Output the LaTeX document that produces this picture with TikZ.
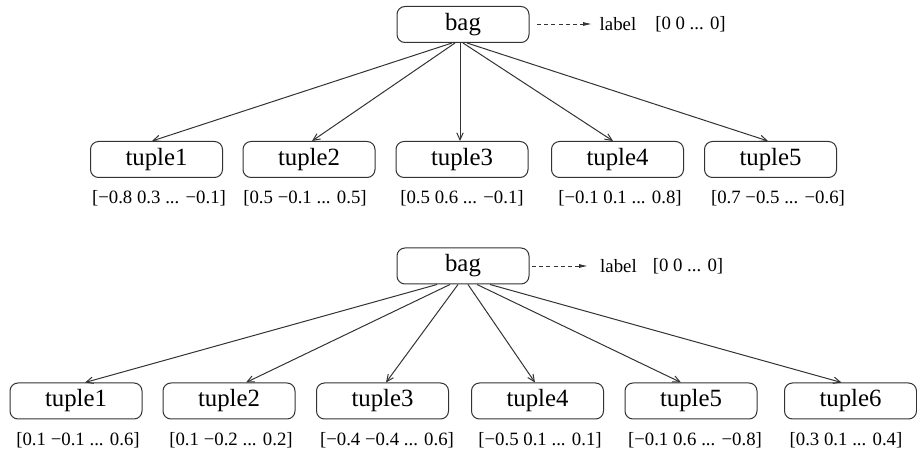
\documentclass[tikz,border=0pt]{standalone}
\usepackage{fontspec}
\setmainfont{Liberation Serif}
\usetikzlibrary{arrows.meta,calc}
\begin{document}
\begin{tikzpicture}[x=0.5pt,y=-0.5pt,
  box/.style={draw=black!80,line width=0.5pt,rounded corners=4pt,minimum width=66pt,minimum height=18pt,inner sep=0pt,font=\fontsize{12.4}{14}\selectfont},
  vec/.style={inner sep=0pt,font=\fontsize{9.4}{11}\selectfont},
  lbl/.style={inner sep=0pt,font=\fontsize{9.4}{11}\selectfont},
  edge/.style={draw=black!80,line width=0.5pt,-{Straight Barb[length=3.5pt,width=3.2pt]}},
  dasharrow/.style={draw=black!80,line width=0.45pt,dash pattern=on 2pt off 1.6pt,-{Latex[length=4.5pt,width=2pt]}}]
\useasboundingbox (0,0) rectangle (917,454);
% ---------- top tree ----------
\node[box] (bagA) at (463,24.5) {bag};
\coordinate (dA1) at (537,24);
\coordinate (dA2) at (592,24);
\node[lbl] (labA) at (618,24) {label};
\node[lbl] (zeroA) at (690.5,24) {[0 0 ... 0]};
\draw[dasharrow] (dA1) -- (dA2);
\foreach \n/\x/\v/\vx in {1/156.5/{[−0.8 0.3 ... −0.1]}/159,2/309/{[0.5 −0.1 ... 0.5]}/305,3/462/{[0.5 0.6 ... −0.1]}/462,4/617.5/{[−0.1 0.1 ... 0.8]}/620,5/770.5/{[0.7 −0.5 ... −0.6]}/778}{
  \node[box] (tA\n) at (\x,159.5) {tuple\n};
  \node[vec] (vA\n) at (\vx,198) {\v};
}
\draw[edge] ($(bagA.south)+(-11,0)$) -- ($(tA1.north)+(-4.5,0)$);
\draw[edge] ($(bagA.south)+(-8,0)$) -- ($(tA2.north)+(3,0)$);
\draw[edge] ($(bagA.south)+(-3,0)$) -- ($(tA3.north)+(-2,0)$);
\draw[edge] ($(bagA.south)+(0,0)$) -- ($(tA4.north)+(-4.5,0)$);
\draw[edge] ($(bagA.south)+(4,0)$) -- ($(tA5.north)+(-2.5,0)$);
% ---------- bottom tree ----------
\node[box] (bagB) at (463,266) {bag};
\coordinate (dB1) at (532,266);
\coordinate (dB2) at (588,266);
\node[lbl] (labB) at (618.5,266) {label};
\node[lbl] (zeroB) at (688,266) {[0 0 ... 0]};
\draw[dasharrow] (dB1) -- (dB2);
\foreach \n/\x/\v/\vx in {1/76/{[0.1 −0.1 ... 0.6]}/78,2/229/{[0.1 −0.2 ... 0.2]}/231,3/382.5/{[−0.4 −0.4 ... 0.6]}/387,4/537.5/{[−0.5 0.1 ... 0.1]}/540,5/691/{[−0.1 0.6 ... −0.8]}/695,6/850.5/{[0.3 0.1 ... 0.4]}/846}{
  \node[box] (tB\n) at (\x,401) {tuple\n};
  \node[vec] (vB\n) at (\vx,440) {\v};
}
\draw[edge] ($(bagB.south)+(-26,0)$) -- ($(tB1.north)+(9,0)$);
\draw[edge] ($(bagB.south)+(-13,0)$) -- ($(tB2.north)+(17,0)$);
\draw[edge] ($(bagB.south)+(-5,0)$) -- ($(tB3.north)+(3.5,0)$);
\draw[edge] ($(bagB.south)+(5,0)$) -- ($(tB4.north)+(-2.5,0)$);
\draw[edge] ($(bagB.south)+(14,0)$) -- ($(tB5.north)+(-10,0)$);
\draw[edge] ($(bagB.south)+(27,0)$) -- ($(tB6.north)+(-9,0)$);
\end{tikzpicture}
\end{document}
